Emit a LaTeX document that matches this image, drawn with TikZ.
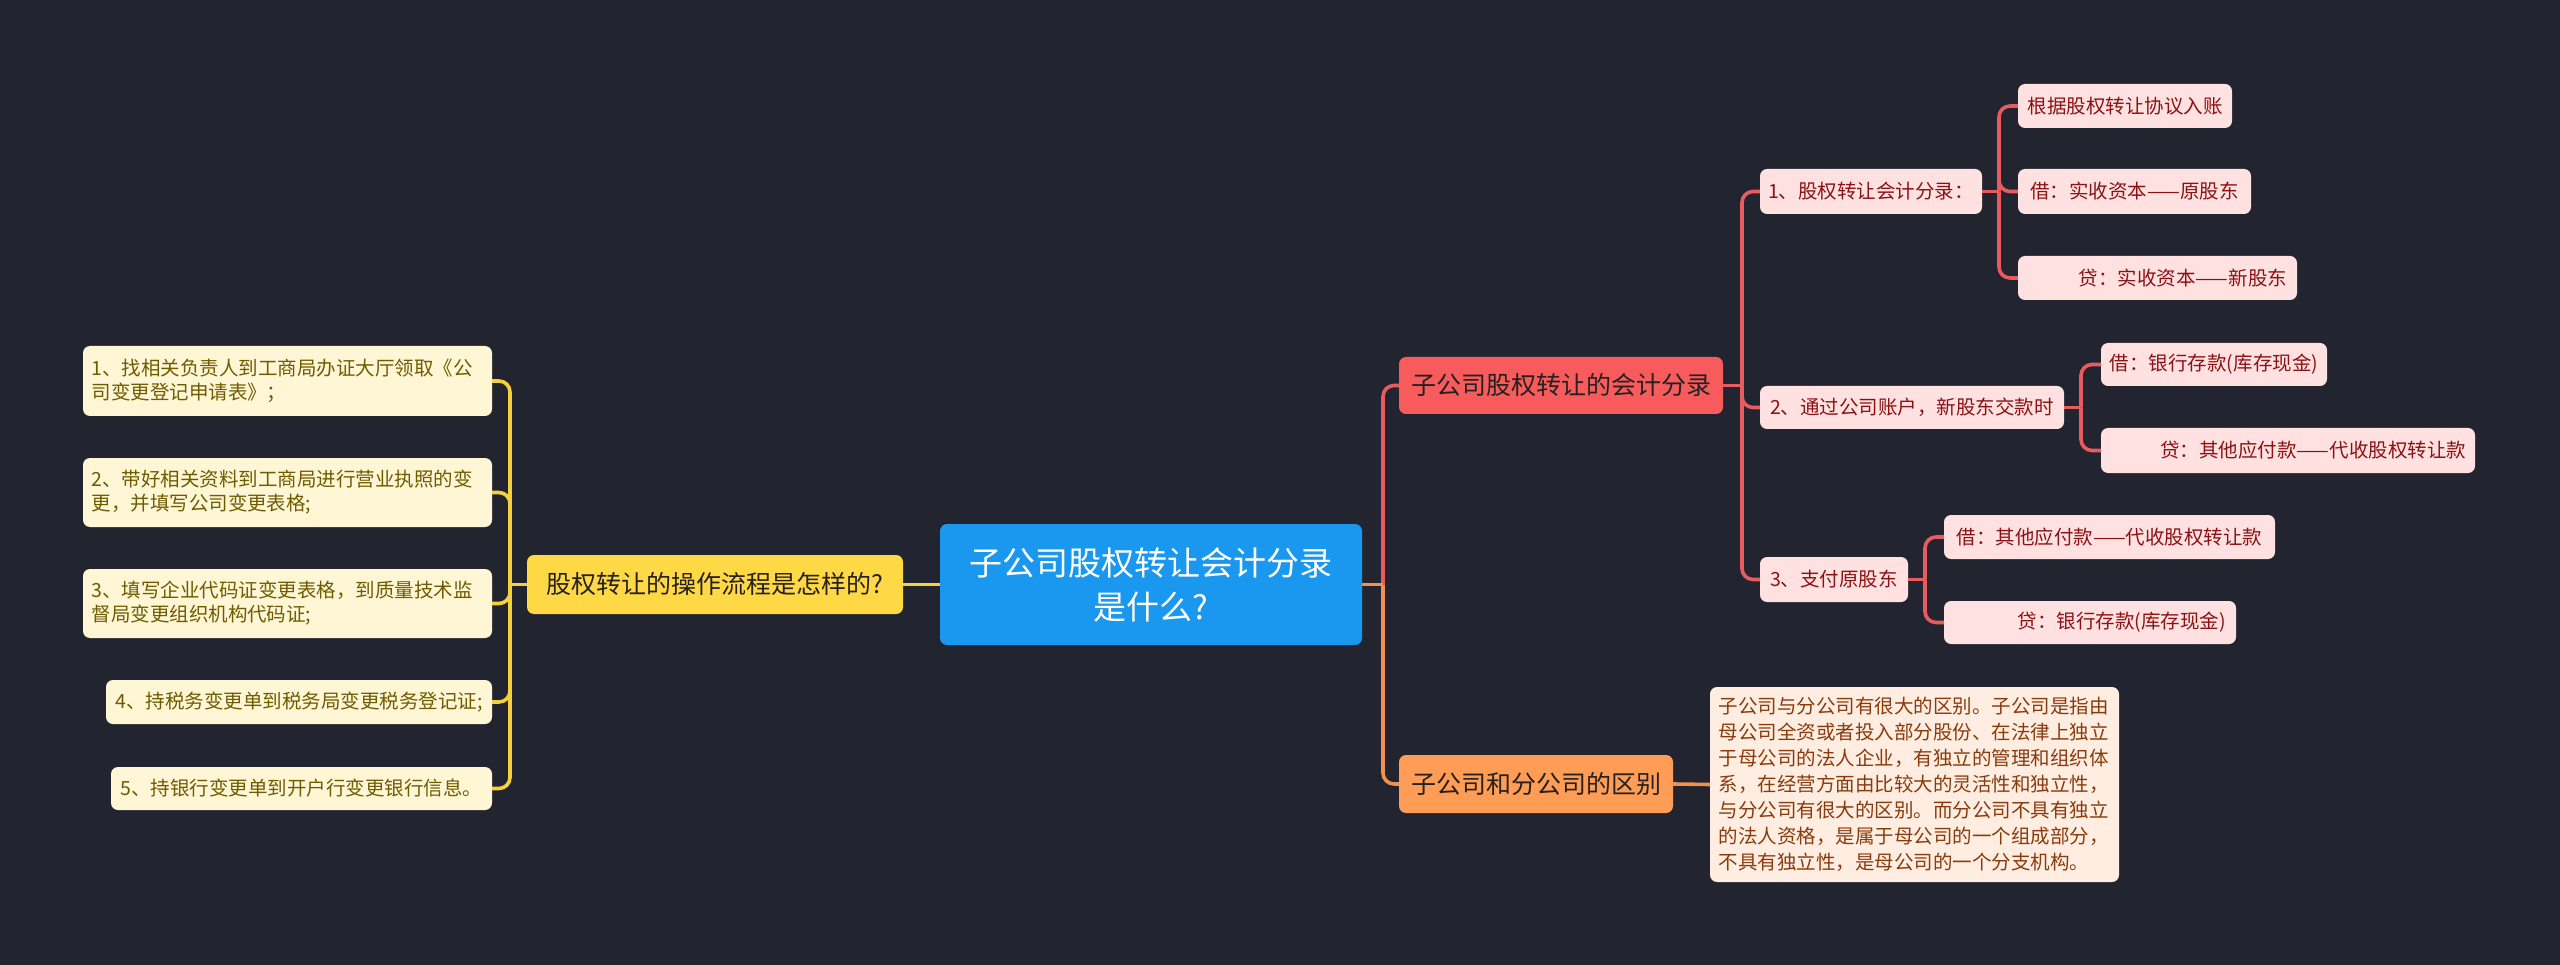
\documentclass[tikz,border=0pt]{standalone}
\usepackage{fontspec}
\setmainfont{Noto Sans CJK SC}
\definecolor{bgc}{HTML}{22252F}
\definecolor{bluec}{HTML}{1A98F0}
\definecolor{ylwc}{HTML}{FFD945}
\definecolor{ylwline}{HTML}{F5D13F}
\definecolor{creamc}{HTML}{FFF6D5}
\definecolor{creamtxt}{HTML}{6F5B00}
\definecolor{redc}{HTML}{F85B5C}
\definecolor{redline}{HTML}{E85B5E}
\definecolor{pinkc}{HTML}{FFE1E1}
\definecolor{pinktxt}{HTML}{8B1214}
\definecolor{orgc}{HTML}{FF9C55}
\definecolor{orgline}{HTML}{F0914F}
\definecolor{peachc}{HTML}{FFEDE1}
\definecolor{peachtxt}{HTML}{8A3B0C}
\definecolor{darktxt}{HTML}{262020}
\begin{document}
\begin{tikzpicture}[x=1pt,y=-1pt,
  bx/.style={rounded corners=7pt, inner sep=0pt, align=center},
  rootbox/.style={bx, fill=bluec, text=white, font=\fontsize{33}{44}\selectfont},
  mainbox/.style={bx, text=darktxt, font=\fontsize{25}{30}\selectfont},
  leafy/.style={bx, fill=creamc, text=creamtxt, font=\fontsize{19.5}{24}\selectfont},
  leafr/.style={bx, fill=pinkc, text=pinktxt, font=\fontsize{19.5}{24}\selectfont},
  leafo/.style={bx, fill=peachc, text=peachtxt, font=\fontsize{19.5}{26}\selectfont},
  lnk/.style={line width=3.6pt},
  ylnk/.style={lnk, draw=ylwline},
  rlnk/.style={lnk, draw=redline},
  olnk/.style={lnk, draw=orgline},
  rc/.style={rounded corners=11pt}
]
\fill[bgc] (0,0) rectangle (2560,965);
\useasboundingbox (0,0) rectangle (2560,965);

% trunk coordinates
\coordinate (tl) at (510,0);
\coordinate (tr) at (1383,0);
\coordinate (tred) at (1742,0);
\coordinate (t1) at (1999,0);
\coordinate (t2) at (2081,0);
\coordinate (t3) at (1925,0);

% root
\node[rootbox, minimum width=422pt, minimum height=121pt] (c) at (1151,584.5) {子公司股权转让会计分录\\是什么?};

% left side
\node[mainbox, fill=ylwc, minimum width=376pt, minimum height=59pt] (yl) at (715,584.5) {股权转让的操作流程是怎样的?};
\node[leafy, align=left, text width=392pt, minimum width=409pt, minimum height=70pt] (b1) at (287.5,381) {1、找相关负责人到工商局办证大厅领取《公\\司变更登记申请表》；};
\node[leafy, align=left, text width=392pt, minimum width=409pt, minimum height=69pt] (b2) at (287.5,492.5) {2、带好相关资料到工商局进行营业执照的变\\更，并填写公司变更表格;};
\node[leafy, align=left, text width=392pt, minimum width=409pt, minimum height=69pt] (b3) at (287.5,603.5) {3、填写企业代码证变更表格，到质量技术监\\督局变更组织机构代码证;};
\node[leafy, minimum width=386pt, minimum height=44pt] (b4) at (299,702) {4、持税务变更单到税务局变更税务登记证;};
\node[leafy, minimum width=381pt, minimum height=43pt] (b5) at (301.5,788.5) {5、持银行变更单到开户行变更银行信息。};

% right side
\node[mainbox, fill=redc, minimum width=324pt, minimum height=57pt] (rd) at (1561,385.5) {子公司股权转让的会计分录};
\node[mainbox, fill=orgc, minimum width=274pt, minimum height=58pt] (og) at (1536,784) {子公司和分公司的区别};

\node[leafr, minimum width=222pt, minimum height=45pt] (n1) at (1871,191.5) {1、股权转让会计分录：};
\node[leafr, minimum width=214pt, minimum height=44pt] (n1a) at (2125,106) {根据股权转让协议入账};
\node[leafr, minimum width=233pt, minimum height=45pt] (n1b) at (2134.5,191.5) {借：实收资本——原股东};
\node[leafr, align=right, text width=259pt, minimum width=279pt, minimum height=44pt] (n1c) at (2157.5,278) {贷：实收资本——新股东};

\node[leafr, minimum width=304pt, minimum height=43pt] (n2) at (1912,407.5) {2、通过公司账户，新股东交款时};
\node[leafr, minimum width=226pt, minimum height=43pt] (n2a) at (2214,364.5) {借：银行存款(库存现金)};
\node[leafr, align=right, text width=356pt, minimum width=374pt, minimum height=45pt] (n2b) at (2288,450.5) {贷：其他应付款——代收股权转让款};

\node[leafr, minimum width=148pt, minimum height=45pt] (n3) at (1834,579.5) {3、支付原股东};
\node[leafr, minimum width=331pt, minimum height=44pt] (n3a) at (2109.5,537) {借：其他应付款——代收股权转让款};
\node[leafr, align=right, text width=272pt, minimum width=292pt, minimum height=43pt] (n3b) at (2090,622.5) {贷：银行存款(库存现金)};

\node[leafo, align=left, text width=392pt, minimum width=409pt, minimum height=195pt] (tb) at (1914.5,784.5) {子公司与分公司有很大的区别。子公司是指由\\母公司全资或者投入部分股份、在法律上独立\\于母公司的法人企业，有独立的管理和组织体\\系，在经营方面由比较大的灵活性和独立性，\\与分公司有很大的区别。而分公司不具有独立\\的法人资格，是属于母公司的一个组成部分，\\不具有独立性，是母公司的一个分支机构。};

% connectors: root to main branches
\draw[ylnk] (c.west) -- (yl.east);
\draw[rlnk] (c.east) -- (c.east -| tr);
\draw[rlnk, rc] (c.east -| tr) |- (rd.west);
\draw[olnk] (c.east) -- (c.east -| tr);
\draw[olnk, rc] (c.east -| tr) |- (og.west);

% left leaves
\draw[ylnk] (yl.west) -- (yl.west -| tl);
\foreach \b in {b1,b2,b3,b4,b5}{
  \draw[ylnk, rc] (yl.west -| tl) |- (\b.east);
}

% red branch
\draw[rlnk] (rd.east) -- (rd.east -| tred);
\foreach \b in {n1,n2,n3}{
  \draw[rlnk, rc] (rd.east -| tred) |- (\b.west);
}
\draw[rlnk] (n1.east) -- (n1.east -| t1);
\foreach \b in {n1a,n1b,n1c}{
  \draw[rlnk, rc] (n1.east -| t1) |- (\b.west);
}
\draw[rlnk] (n2.east) -- (n2.east -| t2);
\foreach \b in {n2a,n2b}{
  \draw[rlnk, rc] (n2.east -| t2) |- (\b.west);
}
\draw[rlnk] (n3.east) -- (n3.east -| t3);
\foreach \b in {n3a,n3b}{
  \draw[rlnk, rc] (n3.east -| t3) |- (\b.west);
}

% orange branch
\draw[olnk] (og.east) -- (tb.west);
\end{tikzpicture}
\end{document}
